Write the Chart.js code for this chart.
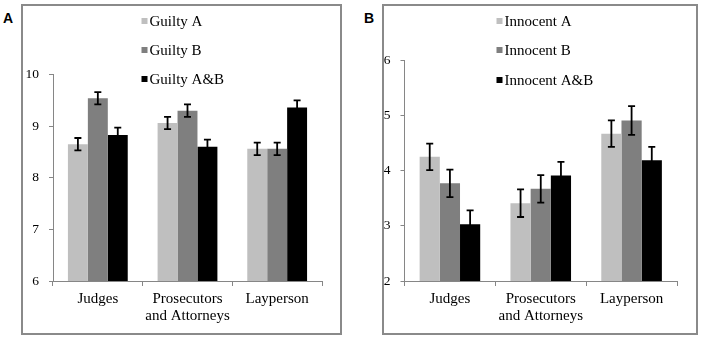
<!DOCTYPE html>
<html>
<head>
<meta charset="utf-8">
<script src="https://cdn.jsdelivr.net/npm/chart.js@4.4.1/dist/chart.umd.min.js"></script>
<style>
  html, body { margin: 0; padding: 0; background: #fff; }
  body { width: 702px; height: 339px; position: relative; overflow: hidden; }
  .box { position: absolute; box-sizing: border-box; border: 2px solid #8a8a8a; }
  .lbl { position: absolute; font: bold 14px "Liberation Sans", Arial, sans-serif; line-height: 14px; color: #000; }
  canvas { position: absolute; top: 0; }
</style>
</head>
<body>
<div class="box" style="left:21px; top:4px; width:321px; height:331px;"></div>
<div class="box" style="left:382px; top:4px; width:316px; height:331px;"></div>
<div class="lbl" style="left:3px; top:11px;">A</div>
<div class="lbl" style="left:364px; top:11px;">B</div>
<canvas id="chartA" width="351" height="339" style="left:0;"></canvas>
<canvas id="chartB" width="351" height="339" style="left:351px;"></canvas>
<script>
// ---------- data ----------
const categories = ['Judges', ['Prosecutors', 'and Attorneys'], 'Layperson'];

const guiltyLabels = ['Guilty A', 'Guilty B', 'Guilty A&B'];
const guiltyA    = [8.65, 9.06, 8.56];
const guiltyAErr = [0.12, 0.12, 0.12];
const guiltyB    = [9.54, 9.30, 8.56];
const guiltyBErr = [0.12, 0.12, 0.12];
const guiltyAB   = [8.83, 8.60, 9.36];
const guiltyABErr= [0.14, 0.14, 0.14];
const guiltyTicks = [6, 7, 8, 9, 10];

const innocentLabels = ['Innocent A', 'Innocent B', 'Innocent A&B'];
const innocentA    = [4.25, 3.41, 4.67];
const innocentAErr = [0.24, 0.25, 0.24];
const innocentB    = [3.77, 3.67, 4.91];
const innocentBErr = [0.25, 0.25, 0.26];
const innocentAB   = [3.03, 3.91, 4.19];
const innocentABErr= [0.25, 0.25, 0.24];
const innocentTicks = [2, 3, 4, 5, 6];

const colors = ['#bfbfbf', '#7f7f7f', '#000000'];
const serif = '"Liberation Serif", "Times New Roman", serif';
const axisGray = '#868686';

// ---------- plugins ----------
const errorBarPlugin = {
  id: 'errorBars',
  afterDatasetsDraw(chart) {
    const ctx = chart.ctx;
    const yScale = chart.scales.y;
    ctx.save();
    ctx.strokeStyle = '#000';
    ctx.lineWidth = 1.8;
    chart.data.datasets.forEach((ds, di) => {
      const meta = chart.getDatasetMeta(di);
      meta.data.forEach((el, i) => {
        const v = ds.data[i], e = ds.errors[i];
        const yTop = yScale.getPixelForValue(v + e);
        const yBot = yScale.getPixelForValue(v - e);
        const x = el.x;
        ctx.beginPath();
        ctx.moveTo(x, yTop); ctx.lineTo(x, yBot);
        ctx.moveTo(x - 3.5, yTop); ctx.lineTo(x + 3.5, yTop);
        ctx.moveTo(x - 3.5, yBot); ctx.lineTo(x + 3.5, yBot);
        ctx.stroke();
      });
    });
    ctx.restore();
  }
};

function makeLegendPlugin(x, ys) {
  return {
    id: 'boxLegend',
    afterDraw(chart) {
      const ctx = chart.ctx;
      ctx.save();
      ctx.font = '15px ' + serif;
      ctx.textBaseline = 'middle';
      ctx.textAlign = 'left';
      chart.data.datasets.forEach((ds, i) => {
        ctx.fillStyle = ds.backgroundColor;
        ctx.fillRect(x, ys[i] - 3, 6, 6);
        ctx.fillStyle = '#000';
        ctx.fillText(ds.label, x + 8, ys[i] + 1);
      });
      ctx.restore();
    }
  };
}

function makeChart(id, labels, series, errs, ticks, pad, legendX, legendYs) {
  const datasets = series.map((s, i) => ({
    label: labels[i],
    data: s,
    errors: errs[i],
    backgroundColor: colors[i],
    borderWidth: 0,
    categoryPercentage: 0.667,
    barPercentage: 1.0
  }));
  return new Chart(document.getElementById(id), {
    type: 'bar',
    data: { labels: categories, datasets },
    options: {
      responsive: false,
      devicePixelRatio: 1,
      animation: false,
      layout: { padding: pad },
      plugins: { legend: { display: false }, tooltip: { enabled: false } },
      scales: {
        x: {
          grid: { offset: true, drawOnChartArea: false, drawTicks: true, tickLength: 5, color: axisGray },
          border: { color: axisGray, width: 1 },
          ticks: { font: { family: serif, size: 15, lineHeight: 1.1 }, color: '#000', padding: 5, maxRotation: 0, autoSkip: false },
          afterFit: s => { s.height = 58; }
        },
        y: {
          min: ticks[0], max: ticks[ticks.length - 1],
          afterBuildTicks: s => { s.ticks = ticks.map(v => ({ value: v })); },
          grid: { drawOnChartArea: false, drawTicks: true, tickLength: 4, color: axisGray },
          border: { color: axisGray, width: 1 },
          ticks: { font: { family: serif, size: 13.5 }, color: '#000', padding: 10 },
          afterFit: s => { s.width = 53; }
        }
      }
    },
    plugins: [errorBarPlugin, makeLegendPlugin(legendX, legendYs)]
  });
}

makeChart('chartA', guiltyLabels,
  [guiltyA, guiltyB, guiltyAB], [guiltyAErr, guiltyBErr, guiltyABErr], guiltyTicks,
  { left: 0, right: 29, top: 74.5, bottom: 0 }, 141.5, [21, 50, 79]);

makeChart('chartB', innocentLabels,
  [innocentA, innocentB, innocentAB], [innocentAErr, innocentBErr, innocentABErr], innocentTicks,
  { left: 0.5, right: 25, top: 60.3, bottom: 0 }, 145.5, [21, 50, 80]);
</script>
</body>
</html>
